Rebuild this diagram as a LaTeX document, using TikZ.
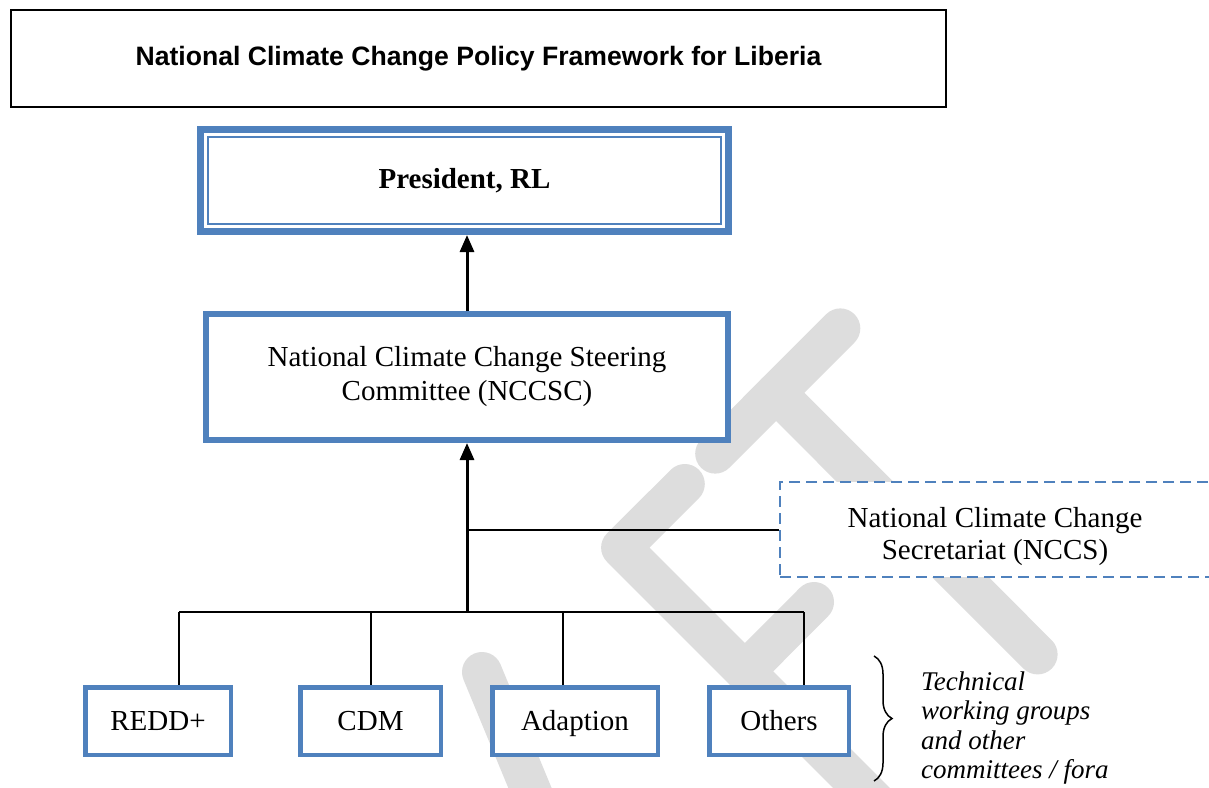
\documentclass[tikz,border=0pt]{standalone}
\usepackage{fontspec}
\setmainfont{Liberation Serif}
\newfontfamily\headfont{Liberation Sans}
\usetikzlibrary{arrows.meta,decorations.pathreplacing}
\definecolor{frameblue}{HTML}{4F81BD}
\definecolor{draftgray}{HTML}{DDDDDD}

\begin{document}
\begin{tikzpicture}[
    x=1pt,
    y=-1pt,
    title_box/.style={rectangle, draw, line width=1.5pt, fill=white, minimum width=935pt, minimum height=97pt, inner sep=0pt, font=\headfont\bfseries\fontsize{26.6}{30}\selectfont},
    head_box/.style={rectangle, draw=frameblue, line width=7pt, fill=white, minimum width=528pt, minimum height=102pt, inner sep=0pt, font=\bfseries\fontsize{29}{34}\selectfont},
    main_box/.style={rectangle, draw=frameblue, line width=6pt, fill=white, minimum width=522pt, minimum height=126pt, inner sep=0pt, align=center, font=\fontsize{29}{34}\selectfont},
    side_box/.style={rectangle, draw=frameblue, line width=2.5pt, dash pattern=on 11pt off 6pt, fill=white, minimum width=430pt, minimum height=95pt, inner sep=0pt, align=center, font=\fontsize{29}{32}\selectfont},
    group_box/.style={rectangle, draw=frameblue, line width=4.5pt, fill=white, minimum height=67.5pt, inner sep=0pt, text height=19pt, text depth=0pt, font=\fontsize{29}{34}\selectfont},
    link/.style={draw, line width=2pt, black},
    trunk/.style={draw, line width=3pt, black, -{Triangle[length=17pt, width=14pt]}},
    note_text/.style={anchor=west, align=left, inner sep=0pt, font=\itshape\fontsize{27}{29.5}\selectfont}
]
  \clip (0,0) rectangle (1209,787);
  \fill[white] (0,0) rectangle (1209,787);

  % DRAFT watermark behind everything
  \begin{scope}[draftgray, line width=40pt, line cap=round, line join=round]
    \draw (715.2,453.6) -- (840.3,328.4);
    \draw (776,392.7) -- (1037.6,654.4);
    \draw (684.8,484) -- (621.1,547.6) -- (911,837.5);
    \draw (745,671.3) -- (814,602);
    \draw (482,672) -- (537,805);
  \end{scope}

  % Boxes
  \node[title_box] (title) at (478.5,58.5) {National Climate Change Policy Framework for Liberia};
  \node[head_box] (pres) at (464.5,180.5) {President, RL};
  \draw[frameblue, line width=2pt] ([shift={(11,11)}]pres.north west) rectangle ([shift={(-11,-11)}]pres.south east);
  \node[main_box] (steer) at (467,377) {National Climate Change Steering\\Committee (NCCSC)};
  \node[side_box] (nccs) at (995,529.5) {\rule{0pt}{34pt}National Climate Change\\Secretariat (NCCS)};

  % Working groups
  \node[group_box, minimum width=145.5pt] (redd) at (158,721) {REDD+};
  \node[group_box, minimum width=140.5pt] (cdm) at (370.5,721) {CDM};
  \node[group_box, minimum width=165.5pt] (adapt) at (575,721) {Adaption};
  \node[group_box, minimum width=139.5pt] (others) at (779,721) {Others};

  % Bus and droppers
  \coordinate (bus) at (467,612);
  \coordinate (redd_drop) at (179,612);
  \coordinate (cdm_drop) at (371,612);
  \coordinate (adapt_drop) at (563,612);
  \coordinate (others_drop) at (804,612);
  \draw[link] (redd_drop) -- (others_drop);
  \foreach \g in {redd, cdm, adapt, others}
    \draw[link] (\g_drop) -- (\g_drop |- \g.north);

  % Reporting lines
  \draw[trunk] (bus) -- (steer.south);
  \draw[link] (bus |- nccs.west) -- (nccs.west);
  \draw[trunk] (steer.north) -- (steer.north |- pres.south);

  % Brace and note
  \draw[line width=1.5pt, decorate, decoration={brace, amplitude=18pt}] (874,656) -- (874,781);
  \node[note_text] (note) at (921,728) {Technical\\working groups\\and other\\committees / fora};
\end{tikzpicture}
\end{document}
